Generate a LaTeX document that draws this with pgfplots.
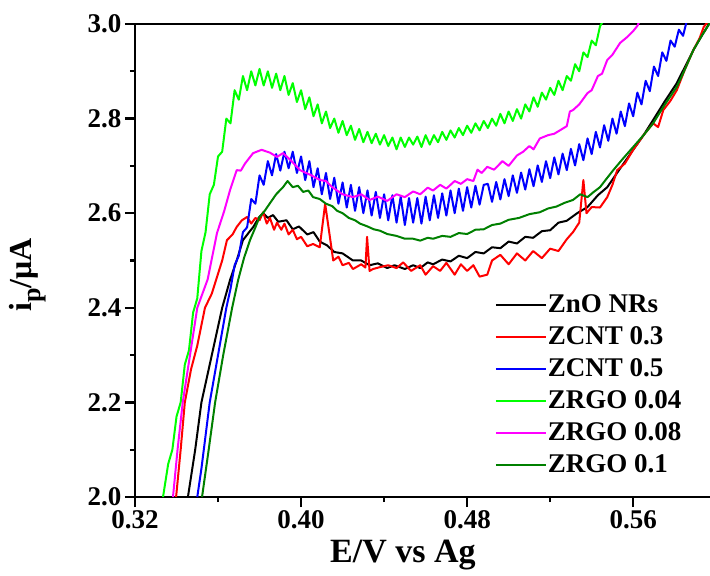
\documentclass[border=0pt]{standalone}
\usepackage{pgfplots}
\pgfplotsset{compat=1.18}
\usepackage{fontspec}
\setmainfont{Liberation Serif}
\definecolor{cgreen}{RGB}{0,255,0}
\definecolor{cdkgreen}{RGB}{0,128,0}
\definecolor{cmag}{RGB}{255,0,255}
\definecolor{cred}{RGB}{255,0,0}
\definecolor{cblue}{RGB}{0,0,255}
\begin{document}
\begin{tikzpicture}
\path[use as bounding box] (-135pt,-79pt) rectangle (575pt,497pt);
\begin{axis}[
  at={(0pt,0pt)}, anchor=south west,
  scale only axis, width=575pt, height=473pt,
  xmin=0.32, xmax=0.597, ymin=2.0, ymax=3.0,
  axis x line*=box, axis y line*=left,
  axis line style={line width=2.6pt},
  every tick/.style={line width=2.2pt, black},
  tick align=outside,
  major tick length=10pt, minor tick length=5pt,
  xtick={0.32,0.40,0.48,0.56}, minor xtick={0.36,0.44,0.52,0.60},
  ytick={2.0,2.2,2.4,2.6,2.8,3.0}, minor ytick={2.1,2.3,2.5,2.7,2.9},
  xtick pos=left, ytick pos=left,
  /pgf/number format/assume math mode=true,
  xticklabel style={/pgf/number format/.cd, fixed, fixed zerofill, precision=2},
  yticklabel style={/pgf/number format/.cd, fixed, fixed zerofill, precision=1},
  ticklabel style={font=\fontsize{27}{30}\selectfont\bfseries},
  xlabel={E/V vs Ag},
  ylabel={i\raisebox{-0.3em}{\fontsize{26}{26}\selectfont p}/μA},
  xlabel style={font=\fontsize{34}{38}\selectfont\bfseries, at={(axis description cs:0.466,-0.123)}, anchor=center},
  ylabel style={font=\fontsize{32}{36}\selectfont\bfseries, at={(axis description cs:-0.187,0.47)}, anchor=center},
  legend style={draw=none, fill=none, at={(rel axis cs:0.62,0.44)}, anchor=north west,
    font=\fontsize{27}{30}\selectfont\bfseries, row sep=4pt,
    nodes={inner sep=1pt, text height=20pt, text depth=6pt}},
  legend cell align=left,
  legend image code/.code={\draw[#1, line width=2.2pt] (0pt,0pt) -- (50pt,0pt);},
  every axis plot/.append style={line width=2pt, line join=round},
]
% ZnO NRs
\addplot[black] coordinates {
(0.3455,2.000) (0.3490,2.100) (0.3520,2.200) (0.3570,2.300) (0.3620,2.400) (0.3658,2.459)
(0.3690,2.500) (0.3720,2.543) (0.3750,2.560) (0.3770,2.571) (0.3795,2.590) (0.3817,2.600)
(0.3840,2.590) (0.3865,2.596) (0.3890,2.582) (0.3930,2.585) (0.3960,2.566) (0.3990,2.572)
(0.4030,2.555) (0.4060,2.560) (0.4090,2.540) (0.4125,2.532) (0.4160,2.518) (0.4200,2.515)
(0.4250,2.500) (0.4290,2.500) (0.4330,2.490) (0.4370,2.494) (0.4415,2.484) (0.4450,2.490)
(0.4500,2.482) (0.4540,2.490) (0.4574,2.484) (0.4610,2.496) (0.4636,2.492) (0.4680,2.502)
(0.4720,2.498) (0.4760,2.510) (0.4800,2.505) (0.4840,2.518) (0.4880,2.515) (0.4920,2.528)
(0.4960,2.526) (0.5000,2.540) (0.5040,2.536) (0.5080,2.550) (0.5118,2.548) (0.5160,2.562)
(0.5200,2.564) (0.5240,2.580) (0.5280,2.584) (0.5330,2.600) (0.5380,2.613) (0.5430,2.638)
(0.5475,2.655) (0.5530,2.690) (0.5600,2.734) (0.5650,2.765) (0.5696,2.797) (0.5750,2.835)
(0.5810,2.875) (0.5850,2.910) (0.5890,2.945) (0.5930,2.975) (0.5957,2.994) (0.5980,3.010)
};
\addlegendentry{ZnO NRs}
% ZCNT 0.3
\addplot[cred] coordinates {
(0.3398,2.000) (0.3420,2.100) (0.3440,2.200) (0.3470,2.270) (0.3500,2.320) (0.3537,2.400)
(0.3570,2.430) (0.3595,2.465) (0.3620,2.500) (0.3643,2.543) (0.3670,2.555) (0.3690,2.571)
(0.3715,2.585) (0.3740,2.592) (0.3760,2.578) (0.3780,2.590) (0.3800,2.585) (0.3817,2.602)
(0.3835,2.578) (0.3850,2.590) (0.3870,2.565) (0.3884,2.580) (0.3905,2.565) (0.3920,2.578)
(0.3940,2.555) (0.3960,2.565) (0.3980,2.545) (0.4000,2.550) (0.4030,2.530) (0.4058,2.535)
(0.4090,2.528) (0.4116,2.620) (0.4155,2.500) (0.4180,2.508) (0.4200,2.490) (0.4230,2.495)
(0.4250,2.482) (0.4290,2.492) (0.4310,2.485) (0.4318,2.550) (0.4330,2.478) (0.4347,2.482)
(0.4380,2.486) (0.4420,2.490) (0.4460,2.484) (0.4492,2.496) (0.4530,2.478) (0.4574,2.490)
(0.4600,2.470) (0.4636,2.488) (0.4670,2.478) (0.4700,2.495) (0.4740,2.470) (0.4770,2.492)
(0.4800,2.478) (0.4830,2.490) (0.4860,2.466) (0.4897,2.470) (0.4920,2.500) (0.4960,2.512)
(0.5000,2.492) (0.5040,2.515) (0.5080,2.500) (0.5118,2.520) (0.5160,2.505) (0.5200,2.525)
(0.5240,2.520) (0.5280,2.545) (0.5310,2.560) (0.5340,2.580) (0.5360,2.670) (0.5375,2.600)
(0.5400,2.613) (0.5440,2.612) (0.5475,2.634) (0.5500,2.660) (0.5523,2.691) (0.5560,2.705)
(0.5600,2.734) (0.5650,2.765) (0.5696,2.790) (0.5720,2.782) (0.5745,2.818) (0.5780,2.838)
(0.5810,2.860) (0.5850,2.905) (0.5890,2.945) (0.5920,2.970) (0.5940,2.994) (0.5970,3.010)
};
\addlegendentry{ZCNT 0.3}
% ZCNT 0.5
\addplot[cblue] coordinates {
(0.3500,2.000) (0.3520,2.060) (0.3540,2.130) (0.3560,2.200) (0.3580,2.250) (0.3600,2.300)
(0.3620,2.350) (0.3640,2.400) (0.3660,2.440) (0.3680,2.490) (0.3700,2.510) (0.3720,2.560)
(0.3740,2.570) (0.3760,2.630) (0.3780,2.620) (0.3800,2.680) (0.3820,2.660) (0.3840,2.710)
(0.3860,2.680) (0.3880,2.725) (0.3900,2.690) (0.3920,2.730) (0.3940,2.695) (0.3960,2.730)
(0.3980,2.685) (0.4000,2.720) (0.4020,2.670) (0.4040,2.710) (0.4060,2.655) (0.4080,2.695)
(0.4100,2.640) (0.4120,2.685) (0.4140,2.630) (0.4160,2.675) (0.4180,2.620) (0.4200,2.665)
(0.4220,2.612) (0.4240,2.660) (0.4260,2.605) (0.4280,2.655) (0.4300,2.600) (0.4320,2.648)
(0.4340,2.595) (0.4360,2.645) (0.4380,2.590) (0.4400,2.640) (0.4420,2.585) (0.4440,2.638)
(0.4460,2.580) (0.4480,2.635) (0.4500,2.575) (0.4520,2.632) (0.4540,2.580) (0.4560,2.632)
(0.4580,2.578) (0.4600,2.635) (0.4620,2.585) (0.4640,2.638) (0.4660,2.590) (0.4680,2.642)
(0.4700,2.595) (0.4720,2.648) (0.4740,2.600) (0.4760,2.652) (0.4780,2.605) (0.4800,2.655)
(0.4820,2.612) (0.4840,2.658) (0.4860,2.618) (0.4880,2.660) (0.4900,2.662) (0.4920,2.624)
(0.4940,2.666) (0.4960,2.629) (0.4980,2.672) (0.5000,2.636) (0.5020,2.680) (0.5040,2.643)
(0.5060,2.686) (0.5080,2.650) (0.5100,2.693) (0.5120,2.657) (0.5140,2.701) (0.5160,2.666)
(0.5180,2.710) (0.5200,2.674) (0.5220,2.718) (0.5240,2.682) (0.5260,2.726) (0.5280,2.691)
(0.5300,2.736) (0.5320,2.701) (0.5340,2.746) (0.5360,2.712) (0.5380,2.758) (0.5400,2.725)
(0.5420,2.772) (0.5440,2.739) (0.5460,2.786) (0.5480,2.753) (0.5500,2.800) (0.5520,2.768)
(0.5540,2.815) (0.5560,2.784) (0.5580,2.832) (0.5600,2.805) (0.5620,2.855) (0.5640,2.830)
(0.5660,2.880) (0.5680,2.858) (0.5700,2.910) (0.5720,2.890) (0.5740,2.940) (0.5760,2.922)
(0.5780,2.965) (0.5800,2.952) (0.5820,2.988) (0.5840,2.975) (0.5860,3.010)
};
\addlegendentry{ZCNT 0.5}
% ZRGO 0.04
\addplot[cgreen] coordinates {
(0.3335,2.000) (0.3360,2.070) (0.3380,2.100) (0.3400,2.170) (0.3420,2.200) (0.3440,2.280)
(0.3460,2.310) (0.3480,2.390) (0.3500,2.420) (0.3520,2.520) (0.3540,2.560) (0.3560,2.640)
(0.3580,2.660) (0.3600,2.720) (0.3620,2.730) (0.3640,2.800) (0.3660,2.790) (0.3680,2.860)
(0.3700,2.840) (0.3720,2.890) (0.3740,2.860) (0.3760,2.900) (0.3780,2.870) (0.3800,2.905)
(0.3820,2.870) (0.3840,2.900) (0.3860,2.865) (0.3880,2.895) (0.3900,2.860) (0.3920,2.890)
(0.3940,2.850) (0.3960,2.875) (0.3980,2.835) (0.4000,2.860) (0.4020,2.820) (0.4040,2.845)
(0.4060,2.805) (0.4080,2.830) (0.4100,2.790) (0.4120,2.815) (0.4140,2.780) (0.4160,2.800)
(0.4180,2.770) (0.4200,2.795) (0.4220,2.765) (0.4240,2.785) (0.4260,2.755) (0.4280,2.778)
(0.4300,2.750) (0.4320,2.772) (0.4340,2.748) (0.4360,2.768) (0.4380,2.745) (0.4400,2.765)
(0.4420,2.742) (0.4440,2.760) (0.4460,2.735) (0.4480,2.760) (0.4500,2.740) (0.4520,2.760)
(0.4540,2.745) (0.4560,2.762) (0.4580,2.740) (0.4600,2.765) (0.4620,2.745) (0.4640,2.765)
(0.4660,2.750) (0.4680,2.772) (0.4700,2.755) (0.4720,2.775) (0.4740,2.760) (0.4760,2.780)
(0.4780,2.765) (0.4800,2.785) (0.4820,2.770) (0.4840,2.790) (0.4860,2.775) (0.4880,2.795)
(0.4900,2.780) (0.4920,2.800) (0.4940,2.785) (0.4960,2.810) (0.4980,2.790) (0.5000,2.815)
(0.5020,2.795) (0.5040,2.820) (0.5060,2.800) (0.5080,2.830) (0.5100,2.815) (0.5120,2.845)
(0.5140,2.825) (0.5160,2.855) (0.5180,2.840) (0.5200,2.865) (0.5220,2.850) (0.5240,2.880)
(0.5260,2.860) (0.5280,2.890) (0.5300,2.880) (0.5320,2.915) (0.5340,2.900) (0.5360,2.940)
(0.5380,2.930) (0.5400,2.965) (0.5420,2.955) (0.5440,2.995) (0.5460,3.010)
};
\addlegendentry{ZRGO 0.04}
% ZRGO 0.08
\addplot[cmag] coordinates {
(0.3383,2.000) (0.3405,2.100) (0.3430,2.200) (0.3465,2.300) (0.3500,2.400) (0.3550,2.460)
(0.3595,2.558) (0.3630,2.605) (0.3658,2.649) (0.3690,2.691) (0.3710,2.690) (0.3730,2.705)
(0.3769,2.727) (0.3810,2.734) (0.3850,2.728) (0.3884,2.719) (0.3913,2.727) (0.3950,2.712)
(0.3995,2.691) (0.4050,2.680) (0.4092,2.670) (0.4120,2.668) (0.4150,2.655) (0.4200,2.640)
(0.4250,2.634) (0.4290,2.640) (0.4330,2.628) (0.4370,2.635) (0.4415,2.626) (0.4460,2.640)
(0.4500,2.634) (0.4540,2.646) (0.4574,2.640) (0.4610,2.654) (0.4636,2.648) (0.4670,2.660)
(0.4700,2.652) (0.4740,2.668) (0.4770,2.662) (0.4800,2.672) (0.4830,2.668) (0.4850,2.692)
(0.4870,2.685) (0.4897,2.698) (0.4930,2.692) (0.4970,2.710) (0.5000,2.700) (0.5040,2.722)
(0.5070,2.730) (0.5100,2.742) (0.5120,2.735) (0.5150,2.758) (0.5190,2.765) (0.5220,2.768)
(0.5250,2.776) (0.5280,2.784) (0.5295,2.815) (0.5310,2.818) (0.5340,2.830) (0.5380,2.854)
(0.5400,2.860) (0.5430,2.890) (0.5450,2.895) (0.5475,2.924) (0.5500,2.935) (0.5537,2.960)
(0.5570,2.972) (0.5600,2.985) (0.5620,2.996) (0.5635,3.010)
};
\addlegendentry{ZRGO 0.08}
% ZRGO 0.1
\addplot[cdkgreen] coordinates {
(0.3523,2.000) (0.3555,2.100) (0.3586,2.200) (0.3625,2.300) (0.3668,2.400) (0.3697,2.459)
(0.3725,2.505) (0.3754,2.543) (0.3780,2.570) (0.3800,2.592) (0.3825,2.605) (0.3850,2.621)
(0.3880,2.640) (0.3913,2.655) (0.3935,2.668) (0.3960,2.655) (0.3985,2.658) (0.4010,2.645)
(0.4035,2.648) (0.4058,2.634) (0.4090,2.630) (0.4120,2.620) (0.4150,2.615) (0.4174,2.605)
(0.4200,2.600) (0.4230,2.590) (0.4260,2.585) (0.4284,2.578) (0.4320,2.572) (0.4350,2.566)
(0.4380,2.563) (0.4415,2.556) (0.4460,2.552) (0.4500,2.546) (0.4540,2.546) (0.4574,2.542)
(0.4610,2.548) (0.4636,2.546) (0.4680,2.552) (0.4720,2.550) (0.4760,2.558) (0.4800,2.556)
(0.4840,2.565) (0.4880,2.566) (0.4920,2.575) (0.4960,2.578) (0.5000,2.586) (0.5050,2.590)
(0.5100,2.598) (0.5150,2.602) (0.5190,2.610) (0.5230,2.614) (0.5270,2.622) (0.5310,2.628)
(0.5345,2.640) (0.5380,2.634) (0.5410,2.645) (0.5440,2.655) (0.5470,2.672) (0.5504,2.691)
(0.5550,2.715) (0.5600,2.740) (0.5650,2.765) (0.5696,2.790) (0.5750,2.828) (0.5810,2.867)
(0.5850,2.905) (0.5890,2.945) (0.5930,2.975) (0.5957,2.994) (0.5980,3.010)
};
\addlegendentry{ZRGO 0.1}
\end{axis}
\end{tikzpicture}
\end{document}
